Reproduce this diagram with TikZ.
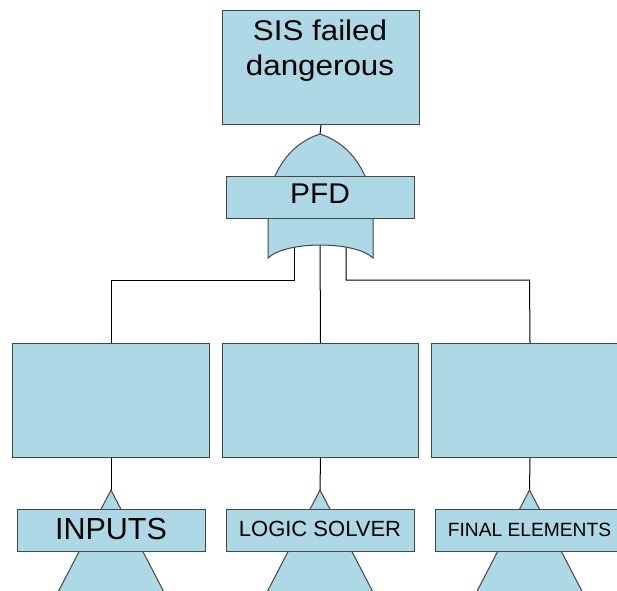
\documentclass[tikz,border=0pt]{standalone}
\usepackage{fontspec}
\setmainfont{Liberation Sans}
\usepackage{graphicx}
\definecolor{gatefill}{HTML}{ADD8E6}
\definecolor{boxline}{HTML}{454545}
\tikzset{
  box/.style={draw=boxline, fill=gatefill, line width=1pt, inner sep=0pt, anchor=north west},
  shapefill/.style={draw=boxline, fill=gatefill, line width=1pt, line join=miter},
  wire/.style={draw=black, line width=1pt},
  lbl/.style={anchor=base, inner sep=0pt, text=black},
}
\begin{document}
\begin{tikzpicture}[x=1pt,y=-1pt]
\clip (0,0) rectangle (617,590);
\fill[white] (0,0) rectangle (617,590);

% gate input points and bus corners
\coordinate (inL) at (294,240);
\coordinate (inC) at (320,240);
\coordinate (inR) at (346,240);
\coordinate (jL) at (111,280);
\coordinate (jR) at (529.5,280);
\coordinate (orout) at (320,134);

% transfer triangle apexes
\coordinate (t1) at (111,490);
\coordinate (t2) at (320,490);
\coordinate (t3) at (529.5,490);

% top event
\node[box, minimum width=197pt, minimum height=114pt] (top) at (222,10) {};

% intermediate events
\node[box, minimum width=197pt, minimum height=114pt] (m1) at (12,343) {};
\node[box, minimum width=196pt, minimum height=114pt] (m2) at (222,343) {};
\node[box, minimum width=197pt, minimum height=114pt] (m3) at (431,343) {};

% connectors
\draw[wire] (top.south) -- (orout);
\draw[wire] (inL) |- (jL) -- (m1.north);
\draw[wire] (inC) -- (m2.north);
\draw[wire] (inR) |- (jR) -- (m3.north);
\draw[wire] (m1.south) -- (t1);
\draw[wire] (m2.south) -- (t2);
\draw[wire] (m3.south) -- (t3);

% OR gate body
\path[shapefill] (268,258) -- (268,190) -- (275,176)
  .. controls (286,152) and (302,140) .. (orout)
  .. controls (338,140) and (354,152) .. (365,176)
  -- (373,190) -- (373,258)
  .. controls (355,240.7) and (286,240.7) .. (268,258) -- cycle;

% transfer triangles
\foreach \p in {t1,t2,t3}{
  \path[shapefill] (\p) -- ++(-83,160) -- ++(166,0) -- cycle;
}

% gate label box
\node[box, minimum width=188pt, minimum height=42pt] (pfd) at (226,176) {};

% transfer label boxes
\node[box, minimum width=188pt, minimum height=42pt] (b1) at (17,509) {};
\node[box, minimum width=188pt, minimum height=42pt] (b2) at (226,509) {};
\node[box, minimum width=188pt, minimum height=42pt] (b3) at (435,509) {};

% texts
\node[lbl, font=\fontsize{28.5}{35}\selectfont] (sisA) at (320,40) {\scalebox{1.1}[1]{SIS failed}};
\node[lbl, font=\fontsize{28.5}{35}\selectfont] (sisB) at (320,75) {\scalebox{1.1}[1]{dangerous}};
\node[lbl, font=\fontsize{28.5}{35}\selectfont] (pfdT) at (320,203) {\scalebox{1.05}[1]{PFD}};
\node[lbl, font=\fontsize{30.5}{36}\selectfont] (inT) at (111,539) {INPUTS};
\node[lbl, font=\fontsize{22}{26}\selectfont] (lsT) at (320,536) {LOGIC SOLVER};
\node[lbl, font=\fontsize{19.2}{23}\selectfont] (feT) at (529.5,536) {FINAL ELEMENTS};
\end{tikzpicture}
\end{document}
